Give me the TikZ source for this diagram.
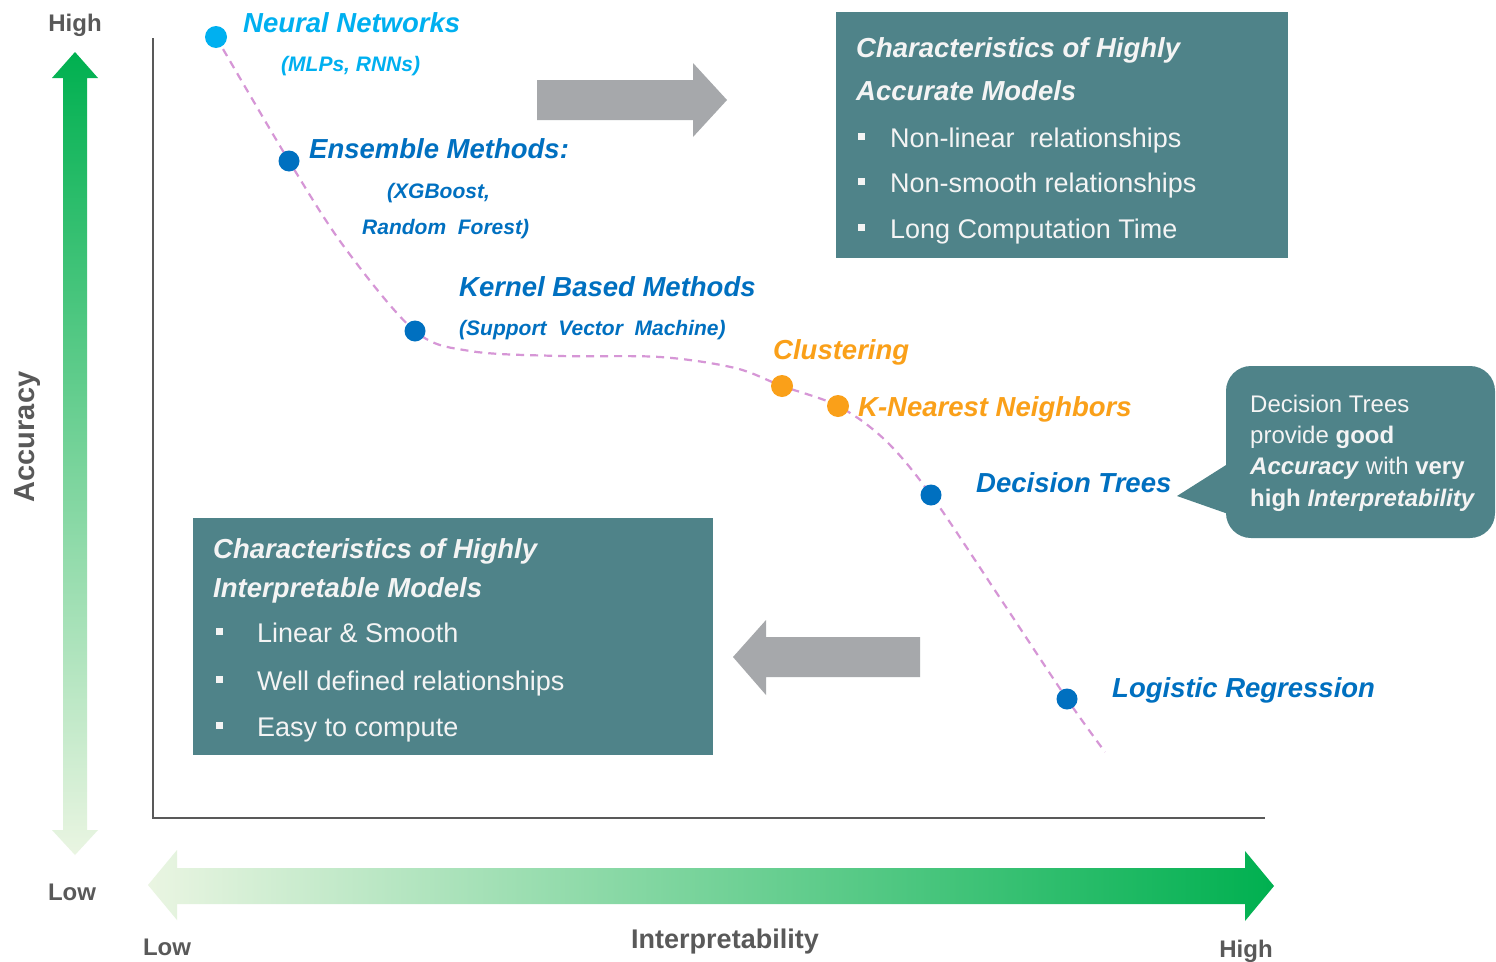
\documentclass[tikz,border=0pt]{standalone}
\usepackage{fontspec}
\setmainfont{Liberation Sans}
\definecolor{nnblue}{RGB}{0,176,240}
\definecolor{mblue}{RGB}{0,112,192}
\definecolor{morange}{RGB}{250,160,25}
\definecolor{boxteal}{RGB}{79,131,137}
\definecolor{arrowgray}{RGB}{166,168,171}
\definecolor{axisgray}{RGB}{89,89,89}
\definecolor{gdark}{RGB}{0,176,80}
\definecolor{gmid}{RGB}{140,214,158}
\definecolor{glight}{RGB}{234,245,226}
\definecolor{curvepink}{RGB}{214,150,214}
\definecolor{boxtext}{RGB}{244,244,244}
\begin{document}
\begin{tikzpicture}[x=1pt,y=-1pt,
  method/.style={inner sep=0pt, anchor=base west, font=\fontsize{27.5}{33}\selectfont\bfseries\itshape},
  detail/.style={inner sep=0pt, anchor=base west, font=\fontsize{21}{25}\selectfont\bfseries\itshape},
  axislbl/.style={inner sep=0pt, anchor=base, text=axisgray, font=\fontsize{24}{28}\selectfont\bfseries},
  dot/.style={circle, inner sep=0pt, minimum size=21pt, fill=#1},
  boxtitle/.style={inner sep=0pt, anchor=base west, text=boxtext, font=\fontsize{27.5}{33}\selectfont\bfseries\itshape},
  boxitem/.style={inner sep=0pt, anchor=base west, text=boxtext, font=\fontsize{27}{32}\selectfont},
  sqbullet/.style={rectangle, inner sep=0pt, minimum size=7pt, fill=boxtext},
  calltext/.style={inner sep=0pt, anchor=base west, text=boxtext, font=\fontsize{24}{30}\selectfont},
  gflat/.style={fill=arrowgray}
]
\useasboundingbox (0,0) rectangle (1496,961);
\fill[white] (0,0) rectangle (1496,961);

% accuracy axis arrow (double headed, shaded)
\shade[top color=gdark, middle color=gmid, bottom color=glight]
  (75,52) -- (98,78) -- (87,78) -- (87,830) -- (98,830) -- (75,855)
  -- (52,830) -- (63,830) -- (63,78) -- (52,78) -- cycle;
% interpretability axis arrow
\shade[left color=glight, middle color=gmid, right color=gdark]
  (148,885) -- (177,850) -- (177,868) -- (1245,868) -- (1245,851) -- (1274,886)
  -- (1245,921) -- (1245,904) -- (177,904) -- (177,920) -- cycle;

% axes
\coordinate (ytop) at (153,38);
\coordinate (origin) at (153,818);
\coordinate (xend) at (1265,818);
\draw[axisgray, line width=2pt] (ytop) -- (origin) -- (xend);

% axis labels
\node[axislbl] (yhigh) at (75,31) {High};
\node[axislbl] (ylow) at (72,900) {Low};
\node[axislbl] (xlow) at (167,955) {Low};
\node[axislbl] (xhigh) at (1246,957) {High};
\node[axislbl, font=\fontsize{27}{32}\selectfont\bfseries] (xname) at (725,948) {Interpretability};
\node[inner sep=0pt, rotate=90, text=axisgray, font=\fontsize{29}{34}\selectfont\bfseries] (yname) at (28,437) {Accuracy};

% characteristic boxes
\fill[boxteal] (836,12) rectangle (1288,258);
\fill[boxteal] (193,518) rectangle (713,755);

% direction arrows
\fill[gflat] (537,80) -- (693,80) -- (693,63) -- (727,100) -- (693,137) -- (693,120) -- (537,120) -- cycle;
\fill[gflat] (920,637) -- (766,637) -- (766,620) -- (733,657) -- (766,695) -- (766,677) -- (920,677) -- cycle;

% callout
\fill[boxteal, rounded corners=25pt] (1226,366) rectangle (1495,538);
\fill[boxteal] (1234,460) -- (1177,496) -- (1234,516) -- cycle;

% trade-off curve through the model positions
\coordinate (pnn) at (216,37);
\coordinate (pens) at (289,161);
\coordinate (pker) at (415,331);
\coordinate (pclu) at (782,386);
\coordinate (pknn) at (838,406);
\coordinate (pdt) at (931,495);
\coordinate (plr) at (1067,699);
\coordinate (pend) at (1105,752);
\draw[curvepink, line width=2.2pt, dash pattern=on 8pt off 6pt]
  plot[smooth, tension=0.55] coordinates {(pnn) (pens) (345,248) (pker) (470,351) (560,356) (660,357) (735,368) (pclu) (pknn) (885,440) (pdt) (1000,598) (plr) (pend)};

% model dots
\node[dot=nnblue, minimum size=22pt] (nn) at (pnn) {};
\node[dot=mblue] (ens) at (pens) {};
\node[dot=mblue] (ker) at (pker) {};
\node[dot=morange, minimum size=22pt] (clu) at (pclu) {};
\node[dot=morange, minimum size=22pt] (knn) at (pknn) {};
\node[dot=mblue] (dt) at (pdt) {};
\node[dot=mblue] (lr) at (plr) {};

% model labels
\node[method, text=nnblue] (nnl) at (243,32) {Neural Networks};
\node[detail, text=nnblue] (nnd) at (281,71) {(MLPs, RNNs)};
\node[method, text=mblue] (ensl) at (309,158) {Ensemble Methods:};
\node[detail, text=mblue] (ensd1) at (387,198) {(XGBoost,};
\node[detail, text=mblue] (ensd2) at (362,234) {Random\ \ Forest)};
\node[method, text=mblue] (kerl) at (459,296) {Kernel Based Methods};
\node[detail, text=mblue] (kerd) at (459,335) {(Support\ \ Vector\ \ Machine)};
\node[method, text=morange] (clul) at (773,359) {Clustering};
\node[method, text=morange] (knnl) at (858,416) {K-Nearest Neighbors};
\node[method, text=mblue] (dtl) at (976,492) {Decision Trees};
\node[method, text=mblue] (lrl) at (1112,697) {Logistic Regression};

% accurate-model characteristics
\node[boxtitle] (at1) at (856,57) {Characteristics of Highly};
\node[boxtitle] (at2) at (856,100) {Accurate Models};
\node[sqbullet] (ab1) at (861,136) {};
\node[boxitem] (ai1) at (890,147) {Non-linear\ \ relationships};
\node[sqbullet] (ab2) at (861,181) {};
\node[boxitem] (ai2) at (890,192) {Non-smooth relationships};
\node[sqbullet] (ab3) at (861,227) {};
\node[boxitem] (ai3) at (890,238) {Long Computation Time};

% interpretable-model characteristics
\node[boxtitle] (it1) at (213,558) {Characteristics of Highly};
\node[boxtitle] (it2) at (213,597) {Interpretable Models};
\node[sqbullet] (ib1) at (219,631) {};
\node[boxitem] (ii1) at (257,642) {Linear \& Smooth};
\node[sqbullet] (ib2) at (219,679) {};
\node[boxitem] (ii2) at (257,690) {Well defined relationships};
\node[sqbullet] (ib3) at (219,725) {};
\node[boxitem] (ii3) at (257,736) {Easy to compute};

% callout text
\node[calltext] (c1) at (1250,412) {Decision Trees};
\node[calltext] (c2) at (1250,443) {provide \textbf{good}};
\node[calltext] (c3) at (1250,474) {\textbf{\textit{Accuracy}} with \textbf{very}};
\node[calltext] (c4) at (1250,506) {\textbf{high \textit{Interpretability}}};
\end{tikzpicture}
\end{document}
